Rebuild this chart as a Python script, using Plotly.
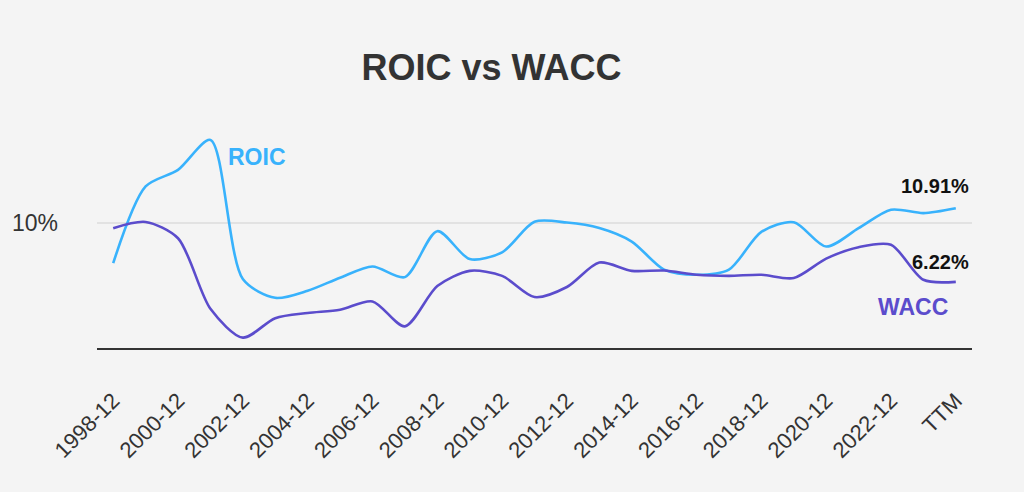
import plotly.graph_objects as go

periods = [f"{y}-12" for y in range(1998, 2024)] + ["TTM"]
tick_labels = [p for i, p in enumerate(periods) if i % 2 == 0 or p == "TTM"]

roic = [7.41, 12.3, 13.36, 15.27, 6.4, 5.2, 5.65, 6.48, 7.2, 6.52, 9.45, 7.67, 8.1,
        10.05, 10.0, 9.65, 8.79, 7.0, 6.67, 7.0, 9.4, 10.02, 8.47, 9.64, 10.82, 10.6, 10.91]
wacc = [9.64, 10.04, 9.0, 4.5, 2.66, 3.9, 4.23, 4.44, 4.97, 3.38, 5.95, 6.92, 6.6,
        5.25, 5.89, 7.45, 6.92, 6.94, 6.67, 6.6, 6.67, 6.46, 7.7, 8.43, 8.58, 6.35, 6.22]

roic_color = "#38b2fc"
wacc_color = "#5b4ccc"
bg = "#f4f4f4"

fig = go.Figure()
fig.add_trace(go.Scatter(x=periods, y=roic, mode="lines", name="ROIC",
                         line=dict(color=roic_color, width=2.6, shape="spline", smoothing=0.8)))
fig.add_trace(go.Scatter(x=periods, y=wacc, mode="lines", name="WACC",
                         line=dict(color=wacc_color, width=2.6, shape="spline", smoothing=0.8)))

font_family = "Liberation Sans, Arial, sans-serif"

fig.update_layout(
    width=1024, height=492,
    paper_bgcolor=bg, plot_bgcolor=bg,
    margin=dict(l=97, r=52, t=128, b=144),
    showlegend=False,
    font=dict(family=font_family, color="#333333"),
    title=dict(text="<b>ROIC vs WACC</b>", x=0.48, xanchor="center", y=0.863, yanchor="middle",
               font=dict(size=36, color="#333333", family=font_family)),
    xaxis=dict(
        type="category", range=[-0.5, 26.5],
        tickmode="array", tickvals=tick_labels, ticktext=tick_labels,
        tickangle=-45, tickfont=dict(size=22, color="#333333"),
        showgrid=False, showline=True, linecolor="#333333", linewidth=2,
        ticks="", ticklabelstandoff=29, zeroline=False,
    ),
    yaxis=dict(
        range=[2.0, 16.03], tickmode="array", tickvals=[10], ticktext=["10%"],
        tickfont=dict(size=23, color="#333333"),
        showgrid=True, gridcolor="#e2e2e2", gridwidth=2,
        zeroline=False, showline=False, ticks="", ticklabelstandoff=38,
    ),
)

fig.add_annotation(x=3, y=14.18, xref="x", yref="y", text="<b>ROIC</b>", showarrow=False,
                   xanchor="left", yanchor="middle", xshift=16,
                   font=dict(size=23, color=roic_color, family=font_family))
fig.add_annotation(x=26, y=wacc[-1], xref="x", yref="y", text="<b>WACC</b>", showarrow=False,
                   xanchor="right", yanchor="middle", xshift=-6, yshift=-25,
                   font=dict(size=23, color=wacc_color, family=font_family))
fig.add_annotation(x=26, y=roic[-1], xref="x", yref="y", text=f"<b>{roic[-1]:.2f}%</b>", showarrow=False,
                   xanchor="right", yanchor="middle", xshift=15, yshift=22,
                   font=dict(size=20, color="#111111", family=font_family))
fig.add_annotation(x=26, y=wacc[-1], xref="x", yref="y", text=f"<b>{wacc[-1]:.2f}%</b>", showarrow=False,
                   xanchor="right", yanchor="middle", xshift=15, yshift=20,
                   font=dict(size=20, color="#111111", family=font_family))

fig.write_html("out.html", config={"displayModeBar": False},
               post_script="document.body.style.margin='0';document.body.style.background='#f4f4f4';")
